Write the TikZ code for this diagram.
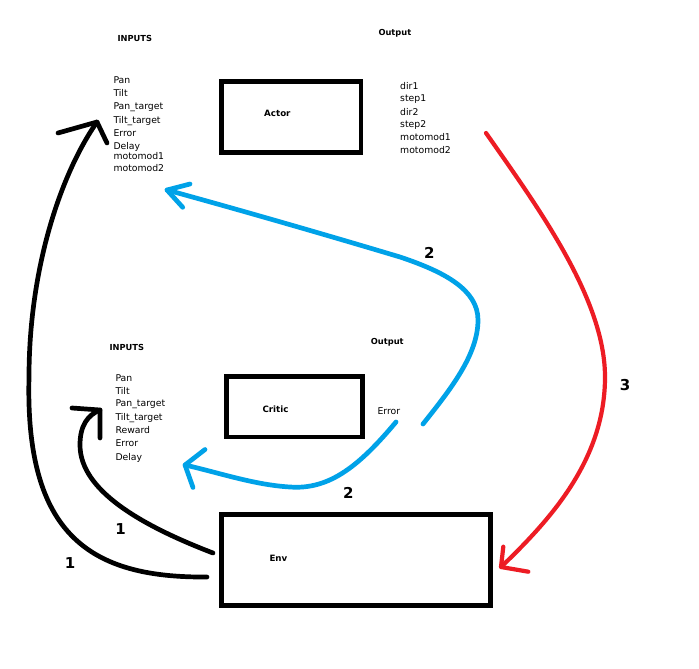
\documentclass[tikz,border=0pt]{standalone}
\usepackage{fontspec}
\setmainfont{DejaVu Sans}
\definecolor{pblue}{RGB}{0,162,232}
\definecolor{pred}{RGB}{237,28,36}
\begin{document}
\begin{tikzpicture}[x=1pt,y=-1pt,
  txt/.style={anchor=base west,inner sep=0pt,font=\fontsize{9.3}{11}\selectfont},
  hdr/.style={anchor=base west,inner sep=0pt,font=\fontsize{8.3}{10}\selectfont\bfseries},
  boxlbl/.style={anchor=base west,inner sep=0pt,font=\fontsize{8.7}{10}\selectfont\bfseries},
  num/.style={inner sep=0pt,font=\fontsize{15}{17}\selectfont\bfseries},
  blkbox/.style={draw=black,line width=4.7pt,inner sep=0pt},
  curve/.style={line width=4.7pt,line cap=round,line join=round},
]
\useasboundingbox[fill=white] (0,0) rectangle (699,669);

% boxes
\node[blkbox,minimum width=139.5pt,minimum height=71pt] (actor) at (291.25,117) {};
\node[blkbox,minimum width=136pt,minimum height=60.5pt] (critic) at (294.5,406.75) {};
\node[blkbox,minimum width=269pt,minimum height=91pt] (env) at (356,560) {};
\node[boxlbl] (actorl) at (264,117) {Actor};
\node[boxlbl] (criticl) at (262.3,412) {Critic};
\node[boxlbl] (envl) at (269.3,561.7) {Env};

% top section
\node[hdr] (in1) at (117.3,41.7) {INPUTS};
\node[hdr] (out1) at (378.3,36) {Output};
\node[txt] (a1) at (113.3,84) {Pan};
\node[txt] (a2) at (113.3,96.7) {Tilt};
\node[txt] (a3) at (113.3,110) {Pan\_target};
\node[txt] (a4) at (113.3,123) {Tilt\_target};
\node[txt] (a5) at (113.3,136) {Error};
\node[txt] (a6) at (113.3,149) {Delay};
\node[txt] (a7) at (113.3,159) {motomod1};
\node[txt] (a8) at (113.3,171.7) {motomod2};
\node[txt] (o1) at (400,89) {dir1};
\node[txt] (o2) at (400,102) {step1};
\node[txt] (o3) at (400,115) {dir2};
\node[txt] (o4) at (400,128) {step2};
\node[txt] (o5) at (400,140.7) {motomod1};
\node[txt] (o6) at (400,153.7) {motomod2};

% critic section
\node[hdr] (in2) at (109.3,350) {INPUTS};
\node[hdr] (out2) at (370.7,344) {Output};
\node[txt] (b1) at (115.3,381) {Pan};
\node[txt] (b2) at (115.3,394) {Tilt};
\node[txt] (b3) at (115.3,406.7) {Pan\_target};
\node[txt] (b4) at (115.3,420) {Tilt\_target};
\node[txt] (b5) at (115.3,433) {Reward};
\node[txt] (b6) at (115.3,446) {Error};
\node[txt] (b7) at (115.3,460) {Delay};
\node[txt] (ce) at (377.3,414) {Error};

% numbers
\node[num] (n2a) at (429.3,252.7) {2};
\node[num] (n2b) at (348.3,492.7) {2};
\node[num] (n3) at (625,385) {3};
\node[num] (n1a) at (120.7,529.3) {1};
\node[num] (n1b) at (70,563.3) {1};

% coordinates for connectors
\coordinate (k1s) at (207,577); \coordinate (k1m) at (29,377); \coordinate (k1t) at (97,122);
\coordinate (k2s) at (213,553); \coordinate (k2m) at (80,445); \coordinate (k2t) at (100,410);
\coordinate (b1s) at (396,422); \coordinate (b1m) at (290,487); \coordinate (b1t) at (185,465);
\coordinate (b2s) at (423,424); \coordinate (b2m) at (478,320); \coordinate (b2n) at (400,257); \coordinate (b2t) at (167,190);
\coordinate (r1s) at (486,133); \coordinate (r1m) at (605,377); \coordinate (r1t) at (501,567);

% black outer
\draw[curve,black] (k1s) .. controls (90,578) and (25,535) .. (k1m)
                         .. controls (29,270) and (60,175) .. (k1t);
\draw[curve,black] (58,133) -- (k1t) -- (107,143);
% black inner
\draw[curve,black] (k2s) .. controls (140,525) and (80,490) .. (k2m)
                         .. controls (80,425) and (88,415) .. (k2t);
\draw[curve,black] (72,408) -- (k2t) -- (100,438);

% blue lower
\draw[curve,pblue] (b1s) .. controls (360,465) and (330,490) .. (b1m)
                         .. controls (255,485) and (220,473) .. (b1t);
\draw[curve,pblue] (205,449.5) -- (b1t) -- (193,487.5);
% blue upper
\draw[curve,pblue] (b2s) .. controls (450,390) and (478,355) .. (b2m)
                         .. controls (478,290) and (445,272) .. (b2n)
                         .. controls (330,236) and (240,210) .. (b2t);
\draw[curve,pblue] (190,184) -- (b2t) -- (182.7,207.3);

% red
\draw[curve,pred,line width=4.2pt] (r1s) .. controls (540,210) and (605,300) .. (r1m)
                                         .. controls (605,460) and (550,520) .. (r1t);
\draw[curve,pred,line width=4.2pt] (503.3,546.7) -- (r1t) -- (528.3,571.7);
\end{tikzpicture}
\end{document}
